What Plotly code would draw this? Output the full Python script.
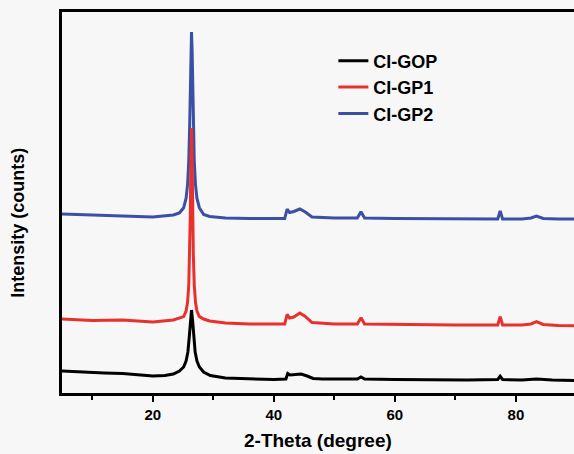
import plotly.graph_objects as go

# ---- data ----
gop_theta = [5, 8, 12, 15, 18, 20, 22, 23.4, 24.4, 25.1, 25.5, 25.8, 26.0, 26.2, 26.4,
             26.6, 26.8, 27.0, 27.3, 27.7, 28.4, 29.5, 32, 36, 40, 42.0, 42.3, 42.7, 43.5,
             44.5, 45.5, 46.5, 48, 52, 53.8, 54.4, 55.0, 60, 66, 72, 77.0, 77.4, 77.8, 81,
             83.4, 86, 89.6]
gop_int = [22, 21, 20, 19.5, 18, 17, 17.5, 19, 22, 26, 32, 41, 54, 71, 83,
           71, 54, 41, 32, 26, 21, 17.5, 15, 14, 13.5, 14, 19.5, 18, 18.5,
           19, 17, 14.5, 14, 13.5, 14, 16, 14, 13.5, 13, 13, 13.5, 16.7, 13.5, 13,
           14, 13, 12.5]

gp_theta = [5, 10, 15, 20, 23.4, 24.4, 25.1, 25.5, 25.75, 25.95, 26.1, 26.2, 26.3, 26.4,
            26.5, 26.6, 26.7, 26.85, 27.05, 27.3, 27.7, 28.4, 29.4, 32, 36, 41.8, 42.2,
            42.6, 43.3, 44.3, 45.2, 46.3, 50, 53.8, 54.4, 55.0, 60, 70, 77.0, 77.4, 77.8,
            81, 82.5, 83.4, 84.5, 87, 89.6]
gp1_int = [74, 72.5, 73, 71, 73, 75, 76.4, 81.9, 90.9, 108.4, 138.8, 177.3, 231.8, 265,
           231.8, 177.3, 138.8, 108.4, 90.9, 81.9, 76.4, 74, 72, 70, 69, 69, 78.7,
           75, 76, 80, 76.5, 70.5, 69, 69, 75.3, 69, 68.5, 68, 68, 76.3, 68,
           68, 69, 71.3, 68.5, 67.5, 67.3]
gp2_int = [179, 178, 177, 176, 178, 180, 185.3, 194.5, 208.5, 233, 268.5, 304, 342.5, 361,
           342.5, 304, 268.5, 233, 208.5, 194.5, 185.3, 178.5, 176.5, 175, 174.5, 174.5, 184,
           180.5, 181.5, 184, 181, 176, 175, 175, 181.3, 175, 174.5, 174, 174, 182, 174,
           174, 175, 177, 174.5, 174, 174]

series_names = ["CI-GOP", "CI-GP1", "CI-GP2"]
series_colors = ["#000000", "#e8302c", "#3a4fa6"]

x_range = [5, 89.6]
y_range = [0, 381]

fig = go.Figure()
# draw blue first, then red, then black on top; legend order via legendrank
fig.add_trace(go.Scatter(x=gp_theta, y=gp2_int, mode="lines", name=series_names[2],
                         line=dict(color=series_colors[2], width=3), legendrank=3,
                         legendgroup="c"))
fig.add_trace(go.Scatter(x=gp_theta, y=gp1_int, mode="lines", name=series_names[1],
                         line=dict(color=series_colors[1], width=3), legendrank=2,
                         legendgroup="b"))
fig.add_trace(go.Scatter(x=gop_theta, y=gop_int, mode="lines", name=series_names[0],
                         line=dict(color=series_colors[0], width=3), legendrank=1,
                         legendgroup="a"))

font_family = "Liberation Sans, Arial, sans-serif"
bg = "#f7f7f7"

fig.update_layout(
    width=574, height=454,
    margin=dict(l=62, r=0, t=12, b=61),
    paper_bgcolor=bg, plot_bgcolor=bg,
    font=dict(family=font_family, color="#000000"),
    showlegend=True,
    legend=dict(x=0.53, y=0.92, xanchor="left", yanchor="top",
                bgcolor="rgba(0,0,0,0)", tracegroupgap=0,
                font=dict(size=18, family=font_family, weight="bold", color="#000000")),
    xaxis=dict(range=x_range, showgrid=False, zeroline=False,
               showline=True, linecolor="#000000", linewidth=2.5, mirror=True,
               tickmode="linear", tick0=0, dtick=20,
               ticks="outside", ticklen=6, tickwidth=1.5, tickcolor="#000000",
               minor=dict(dtick=10, tick0=0, ticks="outside", ticklen=4, tickwidth=1.5,
                          tickcolor="#000000"),
               tickfont=dict(size=15, family=font_family, weight="bold", color="#000000")),
    yaxis=dict(range=y_range, showgrid=False, zeroline=False,
               showline=True, linecolor="#000000", linewidth=2.5, mirror=False,
               showticklabels=False, ticks=""),
    annotations=[
        dict(text="2-Theta (degree)", xref="paper", yref="paper", x=0.5, y=-0.125,
             xanchor="center", yanchor="middle", showarrow=False,
             font=dict(size=19, family=font_family, weight="bold", color="#000000")),
        dict(text="Intensity (counts)", xref="paper", yref="paper", x=-0.086, y=0.447,
             xanchor="center", yanchor="middle", textangle=-90, showarrow=False,
             font=dict(size=18, family=font_family, weight="bold", color="#000000")),
    ],
)

fig.write_html("out.html")
